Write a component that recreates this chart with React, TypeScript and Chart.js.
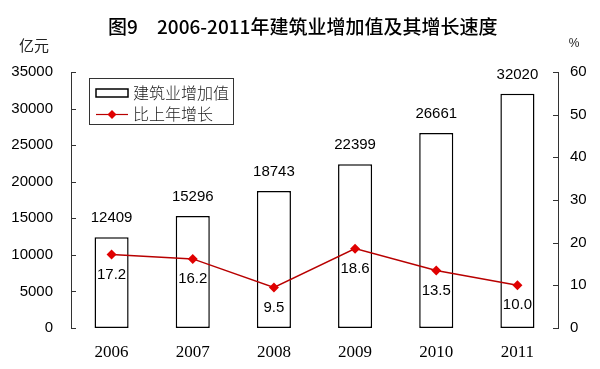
import React, { useEffect, useRef } from "react";
import { Chart, registerables } from "chart.js";

Chart.register(...registerables);

const titleFigure = "图9";
const titleText = "2006-2011年建筑业增加值及其增长速度";
const leftUnit = "亿元";
const rightUnit = "%";
const years = ["2006", "2007", "2008", "2009", "2010", "2011"];
const valueAdded = [12409, 15296, 18743, 22399, 26661, 32020];
const growth = [17.2, 16.2, 9.5, 18.6, 13.5, 10.0];
const barLegend = "建筑业增加值";
const lineLegend = "比上年增长";

const CJK = '"Noto Sans CJK SC", sans-serif';
const ARIAL = '"Liberation Sans", Arial, sans-serif';
const SERIF = '"Liberation Serif", "Times New Roman", serif';
const LINE_COLOR = "#b80000";
const POINT_COLOR = "#e00000";

const decorPlugin = {
  id: "decor",
  afterDatasetsDraw(chart: any) {
    const ctx = chart.ctx;
    const area = chart.chartArea;
    ctx.save();
    // inward ticks
    ctx.strokeStyle = "#333";
    ctx.lineWidth = 1;
    const yl = chart.scales.y;
    const yr = chart.scales.y1;
    yl.ticks.forEach((_t: any, i: number) => {
      const p = Math.round(yl.getPixelForTick(i)) + 0.5;
      ctx.beginPath();
      ctx.moveTo(area.left, p);
      ctx.lineTo(area.left + 5, p);
      ctx.stroke();
    });
    yr.ticks.forEach((_t: any, i: number) => {
      const p = Math.round(yr.getPixelForTick(i)) + 0.5;
      ctx.beginPath();
      ctx.moveTo(area.right, p);
      ctx.lineTo(area.right - 5, p);
      ctx.stroke();
    });

    // data labels
    ctx.fillStyle = "#000";
    ctx.font = `15px ${ARIAL}`;
    ctx.textAlign = "center";
    ctx.textBaseline = "middle";
    const barMeta = chart.getDatasetMeta(1);
    barMeta.data.forEach((el: any, i: number) => {
      ctx.fillText(String(valueAdded[i]), el.x, el.y - 19);
    });
    const lineMeta = chart.getDatasetMeta(0);
    lineMeta.data.forEach((el: any, i: number) => {
      ctx.fillText(growth[i].toFixed(1), el.x, el.y + 20);
    });

    // title
    ctx.font = `500 19px ${CJK}`;
    ctx.textAlign = "left";
    ctx.fillText(titleFigure, 108, 27);
    ctx.fillText(titleText, 157, 27);

    // units
    ctx.textAlign = "center";
    ctx.font = `15px ${CJK}`;
    ctx.fillStyle = "#222";
    ctx.fillText(leftUnit, 34, 45);
    ctx.font = `12px ${ARIAL}`;
    ctx.fillText(rightUnit, 574, 44);

    // legend
    ctx.strokeStyle = "#333";
    ctx.lineWidth = 1;
    ctx.strokeRect(89.5, 78.5, 144, 46);
    ctx.strokeStyle = "#000";
    ctx.lineWidth = 1.5;
    ctx.fillStyle = "#fff";
    ctx.fillRect(96, 89, 32, 8);
    ctx.strokeRect(96, 89, 32, 8);
    ctx.strokeStyle = LINE_COLOR;
    ctx.lineWidth = 1.2;
    ctx.beginPath();
    ctx.moveTo(96, 114.5);
    ctx.lineTo(128, 114.5);
    ctx.stroke();
    ctx.fillStyle = POINT_COLOR;
    ctx.beginPath();
    ctx.moveTo(112, 110);
    ctx.lineTo(116.5, 114.5);
    ctx.lineTo(112, 119);
    ctx.lineTo(107.5, 114.5);
    ctx.closePath();
    ctx.fill();
    ctx.fillStyle = "#222";
    ctx.font = `300 16px ${CJK}`;
    ctx.textAlign = "left";
    ctx.fillText(barLegend, 133, 93);
    ctx.fillText(lineLegend, 133, 114);
    ctx.restore();
  },
};

export default function App() {
  const ref = useRef<HTMLCanvasElement | null>(null);
  useEffect(() => {
    if (!ref.current) return;
    const chart = new Chart(ref.current, {
      type: "bar",
      data: {
        labels: years,
        datasets: [
          {
            type: "line",
            label: lineLegend,
            data: growth,
            yAxisID: "y1",
            borderColor: LINE_COLOR,
            borderWidth: 1.5,
            pointStyle: "rectRot",
            pointRadius: 5,
            pointBackgroundColor: POINT_COLOR,
            pointBorderColor: POINT_COLOR,
            pointBorderWidth: 0,
            order: 0,
          } as any,
          {
            type: "bar",
            label: barLegend,
            data: valueAdded,
            yAxisID: "y",
            backgroundColor: "#fff",
            borderColor: "#000",
            borderWidth: 1.5,
            borderSkipped: false,
            categoryPercentage: 1,
            barPercentage: 0.42,
            order: 1,
          },
        ],
      },
      options: {
        animation: false,
        responsive: false,
        maintainAspectRatio: false,
        layout: { padding: { top: 72, left: 0, right: 0, bottom: 0 } },
        plugins: {
          legend: { display: false },
          tooltip: { enabled: false },
          title: { display: false },
        },
        scales: {
          x: {
            grid: { display: false, drawTicks: false },
            border: { display: false },
            ticks: {
              color: "#000",
              font: { family: SERIF, size: 17 },
              padding: 14,
            },
            afterFit: (s: any) => {
              s.height = 41;
            },
          },
          y: {
            position: "left",
            min: 0,
            max: 35000,
            grid: { display: false, drawTicks: false },
            border: { display: true, color: "#333", width: 1 },
            ticks: {
              stepSize: 5000,
              color: "#000",
              font: { family: ARIAL, size: 15 },
              padding: 18,
              callback: (v: any) => String(v),
            },
            afterFit: (s: any) => {
              s.width = 71;
            },
          },
          y1: {
            position: "right",
            min: 0,
            max: 60,
            grid: { display: false, drawTicks: false },
            border: { display: true, color: "#333", width: 1 },
            ticks: {
              stepSize: 10,
              color: "#000",
              font: { family: ARIAL, size: 15 },
              padding: 12,
              callback: (v: any) => String(v),
            },
            afterFit: (s: any) => {
              s.width = 42;
            },
          },
        },
      },
      plugins: [decorPlugin],
    });
    return () => chart.destroy();
  }, []);
  return (
    <div style={{ position: "fixed", left: 0, top: 0, width: 600, height: 369, background: "#fff" }}>
      <canvas ref={ref} width={600} height={369} style={{ display: "block" }} />
    </div>
  );
}
